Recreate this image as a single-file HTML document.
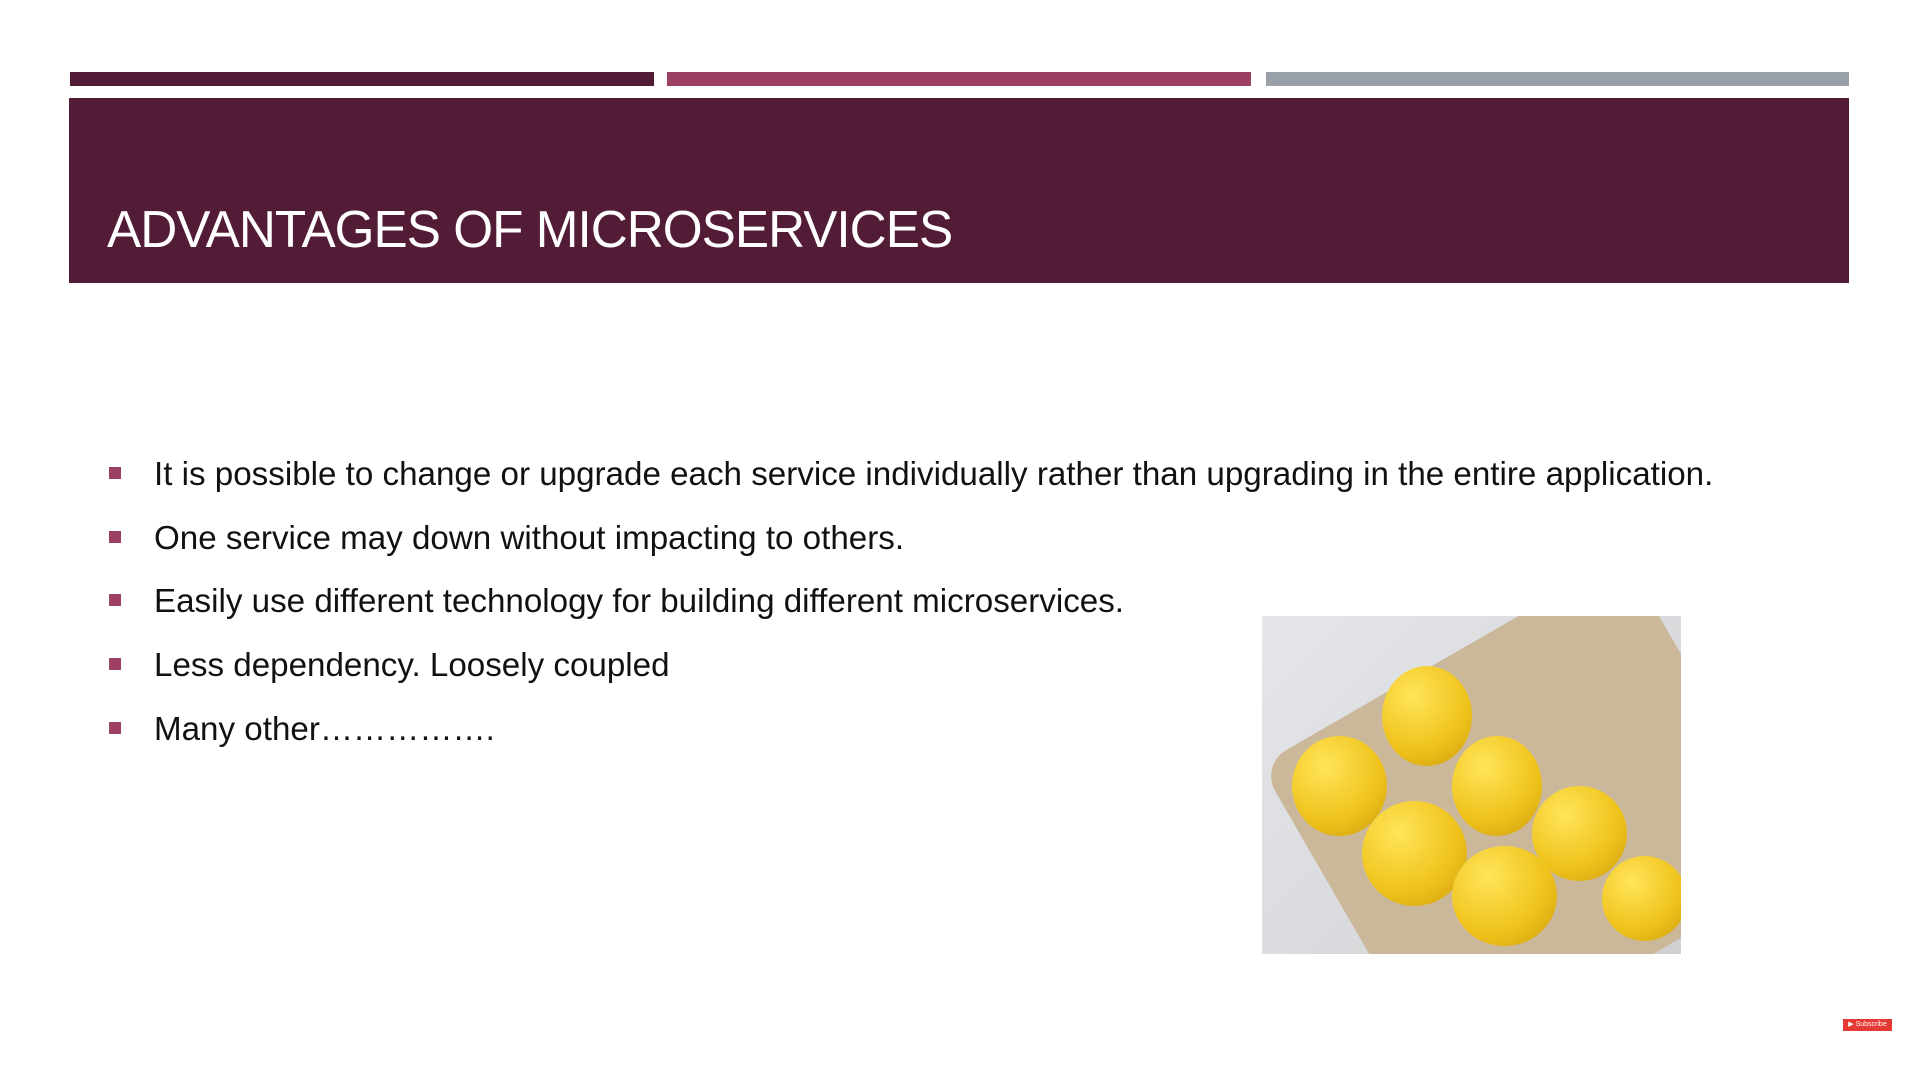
<!DOCTYPE html>
<html><head><meta charset="utf-8"><style>
body{margin:0;width:1920px;height:1080px;background:#fff;position:relative;overflow:hidden;font-family:"Liberation Sans",sans-serif}
.bar{position:absolute;top:72px;height:14px}
#hdr{position:absolute;left:69px;top:98px;width:1780px;height:185px;background:#521b36}
#title{position:absolute;left:107px;top:200px;color:#fff;font-size:52px;white-space:nowrap;transform-origin:left center;letter-spacing:-1px}
.li{position:absolute;left:154px;font-size:30px;color:#111;white-space:nowrap}
.sq{position:absolute;left:109px;width:12px;height:12px;background:#9b3f63}
#img{position:absolute;left:1262px;top:616px;width:419px;height:338px;background:linear-gradient(135deg,#e4e6ea,#cfd0d2);overflow:hidden}
.egg{position:absolute;border-radius:50%;background:radial-gradient(circle at 35% 30%,#ffe55a,#efc21a 60%,#c99a10)}
#sub{position:absolute;left:1843px;top:1019px;width:49px;height:12px;background:#e53935;color:#fff;font-size:7px;line-height:12px;text-align:center}
</style></head><body>
<div class="bar" style="left:70px;width:584px;background:#521b36"></div>
<div class="bar" style="left:667px;width:584px;background:#9b3f63"></div>
<div class="bar" style="left:1266px;width:583px;background:#9aa0a8"></div>
<div id="hdr"></div>
<div id="title">ADVANTAGES OF MICROSERVICES</div>

<div class="sq" style="top:467px"></div>
<div class="li" style="top:456px" data-w="1560">It is possible to change or upgrade each service individually rather than upgrading in the entire application.</div>
<div class="sq" style="top:531px"></div>
<div class="li" style="top:520px">One service may down without impacting to others.</div>
<div class="sq" style="top:594px"></div>
<div class="li" style="top:583px">Easily use different technology for building different microservices.</div>
<div class="sq" style="top:658px"></div>
<div class="li" style="top:647px">Less dependency. Loosely coupled</div>
<div class="sq" style="top:722px"></div>
<div class="li" style="top:711px">Many other…………….</div>

<div id="img">
<div style="position:absolute;left:60px;top:20px;width:420px;height:360px;background:#cbb89a;transform:rotate(-30deg);border-radius:30px"></div>
<div class="egg" style="left:120px;top:50px;width:90px;height:100px"></div>
<div class="egg" style="left:30px;top:120px;width:95px;height:100px"></div>
<div class="egg" style="left:190px;top:120px;width:90px;height:100px"></div>
<div class="egg" style="left:100px;top:185px;width:105px;height:105px"></div>
<div class="egg" style="left:270px;top:170px;width:95px;height:95px"></div>
<div class="egg" style="left:190px;top:230px;width:105px;height:100px"></div>
<div class="egg" style="left:340px;top:240px;width:85px;height:85px"></div>
</div>
<div id="sub">▶ Subscribe</div>
<script>
var t=document.getElementById('title');t.style.transform='scaleX('+(845/t.offsetWidth)+')';
var b=document.querySelector('[data-w]');var s=1560/b.offsetWidth;
document.querySelectorAll('.li').forEach(function(e){e.style.fontSize=(30*s)+'px';});
</script>
</body></html>
